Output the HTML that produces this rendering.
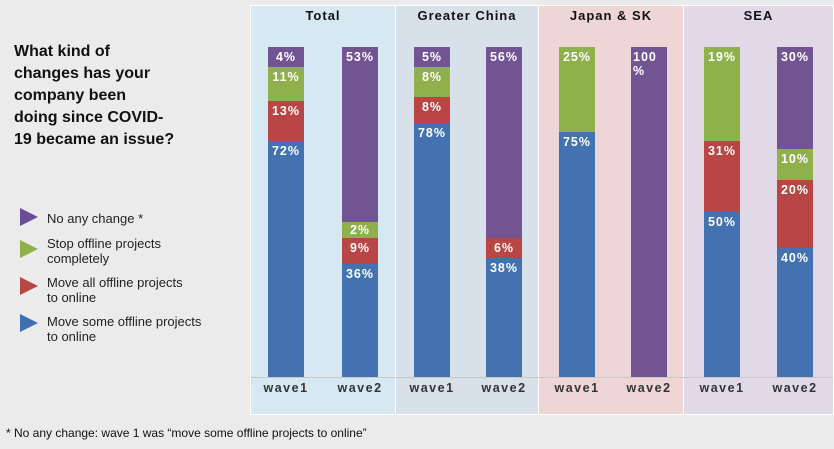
<!DOCTYPE html>
<html><head><style>
body{margin:0;width:834px;height:449px;background:#ebebeb;font-family:"Liberation Sans",Arial,sans-serif;position:relative;overflow:hidden}
.a{position:absolute}
.t{font-weight:bold;font-size:16px;line-height:22px;color:#111;left:14px;top:41px}
.lg{font-size:13px;line-height:15px;color:#222;left:47px}
.tri{left:20px;width:0;height:0;border-top:9px solid transparent;border-bottom:9px solid transparent;border-left:18px solid}
.seg{position:absolute;width:36px;color:#fff;font-weight:bold;font-size:12.5px;text-align:center;letter-spacing:1px;line-height:14px;padding-top:3px;box-sizing:border-box}
.hd{font-weight:bold;font-size:13px;letter-spacing:1px;color:#111;top:8px;text-align:center}
.wv{font-weight:bold;font-size:12.5px;letter-spacing:1.5px;color:#333;top:381px;width:60px;text-align:center}
</style></head><body>
<div class="a t">What kind of<br>changes has your<br>company been<br>doing since COVID-<br>19 became an issue?</div>
<div class="a tri" style="top:208px;border-left-color:#6b4c9a"></div><div class="a lg" style="top:211px">No any change *</div>
<div class="a tri" style="top:240px;border-left-color:#8fb04a"></div><div class="a lg" style="top:236px">Stop offline projects<br>completely</div>
<div class="a tri" style="top:277px;border-left-color:#b94545"></div><div class="a lg" style="top:275px">Move all offline projects<br>to online</div>
<div class="a tri" style="top:314px;border-left-color:#3f6eb3"></div><div class="a lg" style="top:314px">Move some offline projects<br>to online</div>
<div class="a" style="left:6px;top:426px;font-size:12px;color:#111">* No any change: wave 1 was “move some offline projects to online”</div>

<div class="a" style="left:250px;top:5px;width:584px;height:410px;background:#fff"></div>
<div class="a" style="left:251px;top:6px;width:144px;height:408px;background:#d6e8f1"></div>
<div class="a" style="left:396px;top:6px;width:142px;height:408px;background:#d8e1ea"></div>
<div class="a" style="left:539px;top:6px;width:144px;height:408px;background:#eed6d6"></div>
<div class="a" style="left:684px;top:6px;width:149px;height:408px;background:#e2d9e8"></div>
<div class="a" style="left:251px;top:377px;width:582px;height:1px;background:#c8c8c8"></div>

<div class="a hd" style="left:251px;width:144px">Total</div>
<div class="a hd" style="left:396px;width:142px">Greater China</div>
<div class="a hd" style="left:539px;width:144px">Japan &amp; SK</div>
<div class="a hd" style="left:684px;width:149px">SEA</div>

<div class="seg" style="left:268px;top:141px;height:236px;background:#4472b0">72%</div>
<div class="seg" style="left:268px;top:101px;height:40px;background:#b94545">13%</div>
<div class="seg" style="left:268px;top:67px;height:34px;background:#8fb04a">11%</div>
<div class="seg" style="left:268px;top:47px;height:20px;background:#735493">4%</div>
<div class="seg" style="left:342px;top:264px;height:113px;background:#4472b0">36%</div>
<div class="seg" style="left:342px;top:238px;height:26px;background:#b94545">9%</div>
<div class="seg" style="left:342px;top:222px;height:16px;background:#8fb04a;padding-top:1px">2%</div>
<div class="seg" style="left:342px;top:47px;height:175px;background:#735493">53%</div>
<div class="seg" style="left:414px;top:123px;height:254px;background:#4472b0">78%</div>
<div class="seg" style="left:414px;top:97px;height:26px;background:#b94545">8%</div>
<div class="seg" style="left:414px;top:67px;height:30px;background:#8fb04a">8%</div>
<div class="seg" style="left:414px;top:47px;height:20px;background:#735493">5%</div>
<div class="seg" style="left:486px;top:258px;height:119px;background:#4472b0">38%</div>
<div class="seg" style="left:486px;top:238px;height:20px;background:#b94545">6%</div>
<div class="seg" style="left:486px;top:47px;height:191px;background:#735493">56%</div>
<div class="seg" style="left:559px;top:132px;height:245px;background:#4472b0">75%</div>
<div class="seg" style="left:559px;top:47px;height:85px;background:#8fb04a">25%</div>
<div class="seg" style="left:631px;top:47px;height:330px;background:#735493;text-align:left;padding-left:2px">100<br>%</div>
<div class="seg" style="left:704px;top:212px;height:165px;background:#4472b0">50%</div>
<div class="seg" style="left:704px;top:141px;height:71px;background:#b94545">31%</div>
<div class="seg" style="left:704px;top:47px;height:94px;background:#8fb04a">19%</div>
<div class="seg" style="left:777px;top:248px;height:129px;background:#4472b0">40%</div>
<div class="seg" style="left:777px;top:180px;height:68px;background:#b94545">20%</div>
<div class="seg" style="left:777px;top:149px;height:31px;background:#8fb04a">10%</div>
<div class="seg" style="left:777px;top:47px;height:102px;background:#735493">30%</div>

<div class="a wv" style="left:256px">wave1</div>
<div class="a wv" style="left:330px">wave2</div>
<div class="a wv" style="left:402px">wave1</div>
<div class="a wv" style="left:474px">wave2</div>
<div class="a wv" style="left:547px">wave1</div>
<div class="a wv" style="left:619px">wave2</div>
<div class="a wv" style="left:692px">wave1</div>
<div class="a wv" style="left:765px">wave2</div>
</body></html>
